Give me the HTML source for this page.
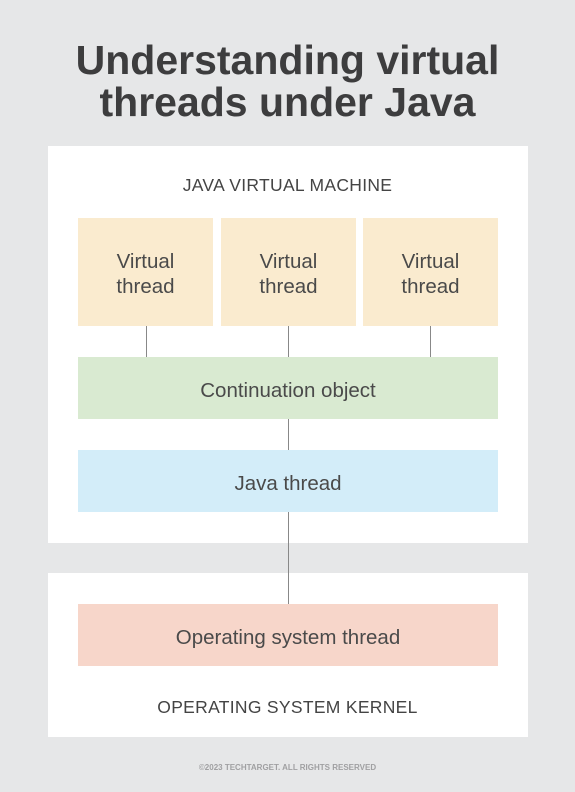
<!DOCTYPE html>
<html><head><style>
body{margin:0;width:575px;height:792px;background:#e6e7e8;position:relative;font-family:"Liberation Sans",sans-serif;color:#444;overflow:hidden}
div{position:absolute;box-sizing:border-box}
.t{left:0;width:575px;text-align:center;font-weight:bold;font-size:41px;color:#3d3d3e;line-height:42px;letter-spacing:0px}
.p{background:#fff;left:48px;width:480px}
.b{display:flex;align-items:center;justify-content:center;text-align:center;font-size:20.5px;line-height:25px;color:#4a4a4a;padding-top:4px}
.v{background:#faebcf;top:218px;height:108px;width:135px}
.l{background:#888;width:1px}
.h{left:0;width:575px;text-align:center;font-size:17.5px;color:#444;letter-spacing:0.3px}
</style></head><body>
<div class="t" style="top:39px">Understanding virtual</div>
<div class="t" style="top:81px">threads under Java</div>
<div class="p" style="top:146px;height:397px"></div>
<div class="p" style="top:573px;height:164px"></div>
<div class="h" style="top:175px">JAVA VIRTUAL MACHINE</div>
<div class="b v" style="left:78px">Virtual<br>thread</div>
<div class="b v" style="left:221px">Virtual<br>thread</div>
<div class="b v" style="left:363px">Virtual<br>thread</div>
<div class="l" style="left:146px;top:326px;height:31px"></div>
<div class="l" style="left:288px;top:326px;height:31px"></div>
<div class="l" style="left:430px;top:326px;height:31px"></div>
<div class="b" style="left:78px;width:420px;top:357px;height:62px;background:#d9ead1">Continuation object</div>
<div class="l" style="left:288px;top:419px;height:31px"></div>
<div class="b" style="left:78px;width:420px;top:450px;height:62px;background:#d3edf9">Java thread</div>
<div class="l" style="left:288px;top:512px;height:92px"></div>
<div class="b" style="left:78px;width:420px;top:604px;height:62px;background:#f7d6ca">Operating system thread</div>
<div class="h" style="top:697px">OPERATING SYSTEM KERNEL</div>
<div class="h" style="top:763px;font-size:8px;font-weight:bold;color:#a0a0a2;letter-spacing:0">©2023 TECHTARGET. ALL RIGHTS RESERVED</div>
</body></html>
